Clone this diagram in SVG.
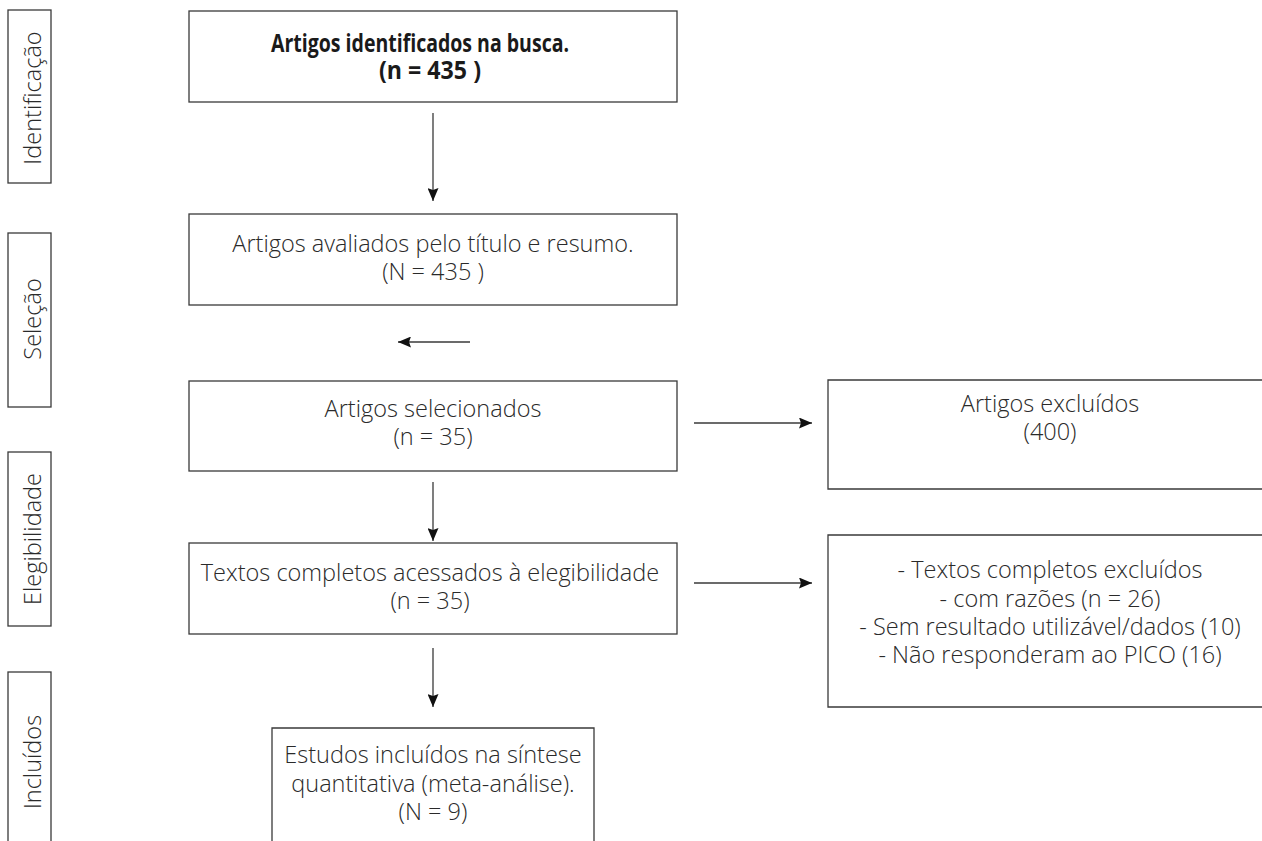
<svg xmlns="http://www.w3.org/2000/svg" width="1262" height="841" viewBox="0 0 1262 841">
<style>
.box{fill:#fff;stroke:#3a3a3a;stroke-width:1.3}
.t{font-family:"Open Sans","Liberation Sans",sans-serif;font-weight:300;font-size:23.5px;fill:#2a2a2a;text-anchor:middle}
.b{font-family:"Open Sans","Liberation Sans",sans-serif;font-weight:700;font-size:25px;fill:#1a1a1a;text-anchor:middle}
.ln{stroke:#3a3a3a;stroke-width:1.3;fill:none}
</style>
<defs>
<marker id="ah" viewBox="0 0 13 11" refX="13" refY="5.5" markerWidth="13" markerHeight="11" markerUnits="userSpaceOnUse" orient="auto">
<path d="M0,0 L13,5.5 L0,11 L2,5.5 Z" fill="#111"/>
</marker>
</defs>
<rect width="1262" height="841" fill="#fff"/>
<g id="stage-identificacao">
<rect class="box" x="8" y="10" width="43" height="173"/>
<text class="t" transform="translate(41,98) rotate(-90)">Identificação</text>
</g>
<g id="stage-selecao">
<rect class="box" x="8" y="233" width="43" height="174"/>
<text class="t" transform="translate(41,319) rotate(-90)">Seleção</text>
</g>
<g id="stage-elegibilidade">
<rect class="box" x="8" y="452" width="43" height="174"/>
<text class="t" transform="translate(41,539) rotate(-90)">Elegibilidade</text>
</g>
<g id="stage-incluidos">
<rect class="box" x="8" y="672" width="43" height="180"/>
<text class="t" transform="translate(41,762) rotate(-90)">Incluídos</text>
</g>
<g id="n-identificados">
<rect class="box" x="189" y="11" width="488" height="91"/>
<text class="b" x="420" y="52" textLength="298" lengthAdjust="spacingAndGlyphs">Artigos identificados na busca.</text>
<text class="b" x="430" y="79" textLength="102" lengthAdjust="spacingAndGlyphs">(n = 435 )</text>
</g>
<g id="n-avaliados">
<rect class="box" x="189" y="214" width="488" height="91"/>
<text class="t" x="433" y="252">Artigos avaliados pelo título e resumo.</text>
<text class="t" x="433" y="280">(N = 435 )</text>
</g>
<g id="n-selecionados">
<rect class="box" x="189" y="381" width="488" height="90"/>
<text class="t" x="433" y="417">Artigos selecionados</text>
<text class="t" x="433" y="445">(n = 35)</text>
</g>
<g id="n-excluidos">
<path class="ln" d="M1263,380 H828 V489 H1263"/>
<text class="t" x="1050" y="412">Artigos excluídos</text>
<text class="t" x="1050" y="440">(400)</text>
</g>
<g id="n-textos">
<rect class="box" x="189" y="543" width="488" height="91"/>
<text class="t" x="430" y="581">Textos completos acessados à elegibilidade</text>
<text class="t" x="430" y="609">(n = 35)</text>
</g>
<g id="n-textos-excluidos">
<path class="ln" d="M1263,535 H828 V707 H1263"/>
<text class="t" x="1050" y="578">- Textos completos excluídos</text>
<text class="t" x="1050" y="607">- com razões (n = 26)</text>
<text class="t" x="1050" y="635">- Sem resultado utilizável/dados (10)</text>
<text class="t" x="1050" y="663">- Não responderam ao PICO (16)</text>
</g>
<g id="n-incluidos">
<path class="ln" d="M272,845 V728 H594 V845"/>
<text class="t" x="433" y="763">Estudos incluídos na síntese</text>
<text class="t" x="433" y="792">quantitativa (meta-análise).</text>
<text class="t" x="433" y="820">(N = 9)</text>
</g>
<g id="connectors">
<line class="ln" x1="433" y1="113" x2="433" y2="201" marker-end="url(#ah)"/>
<line class="ln" x1="470" y1="342" x2="398" y2="342" marker-end="url(#ah)"/>
<line class="ln" x1="694" y1="423" x2="812" y2="423" marker-end="url(#ah)"/>
<line class="ln" x1="433" y1="482" x2="433" y2="541" marker-end="url(#ah)"/>
<line class="ln" x1="694" y1="583" x2="812" y2="583" marker-end="url(#ah)"/>
<line class="ln" x1="433" y1="648" x2="433" y2="707" marker-end="url(#ah)"/>
</g>
</svg>
